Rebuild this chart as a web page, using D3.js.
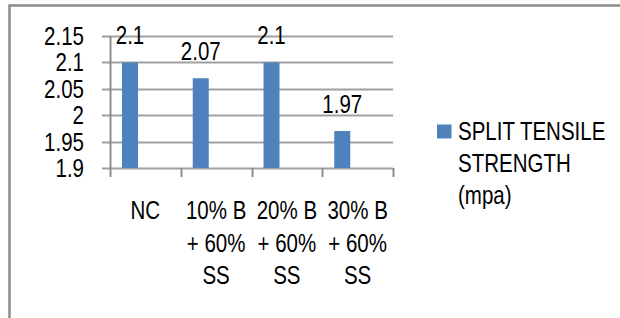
<!DOCTYPE html>
<html><head><meta charset="utf-8">
<script src="https://cdn.jsdelivr.net/npm/d3@7"></script>
<style>
html,body{margin:0;padding:0;background:#fff;}
svg text{font-family:"Liberation Sans","Arial",sans-serif;font-size:25px;fill:#000;}
</style></head>
<body>
<svg id="chart" width="620" height="318"></svg>
<script>
const categories = [["NC"], ["10% B", "+ 60%", "SS"], ["20% B", "+ 60%", "SS"], ["30% B", "+ 60%", "SS"]];
const values = [2.1, 2.07, 2.1, 1.97];
const valueLabels = ["2.1", "2.07", "2.1", "1.97"];
const yTicks = [1.9, 1.95, 2, 2.05, 2.1, 2.15];
const yTickLabels = ["1.9", "1.95", "2", "2.05", "2.1", "2.15"];
const seriesName = ["SPLIT TENSILE", "STRENGTH", "(mpa)"];

(function () {
const svg = d3.select("#chart");
const barColor = "#4F81BD";
const gridColor = "#a0a0a0";
const SX = 0.82;

// narrow text: scale horizontally around the anchor point
function label(parent, data, fx, fy, anchor, ftext) {
  return parent.append("g").selectAll("g").data(data).join("g")
    .attr("transform", (d, i) => `translate(${fx(d, i)},${fy(d, i)}) scale(${SX},1)`)
    .append("text").attr("text-anchor", anchor).text(ftext);
}

svg.append("rect").attr("x", 9.5).attr("y", 5.5).attr("width", 640).attr("height", 340)
  .attr("fill", "none").attr("stroke", "#8c8c8c").attr("stroke-width", 2.5);

const pL = 110, pR = 393, pT = 36, pB = 168;
const x = d3.scaleBand().domain(d3.range(categories.length)).range([pL, pR]).padding(0);
const y = d3.scaleLinear().domain([1.9, 2.15]).range([pB, pT]);

svg.append("g").selectAll("line").data(yTicks).join("line")
  .attr("x1", pL - 8).attr("x2", pR)
  .attr("y1", d => Math.round(y(d)) + 0.5).attr("y2", d => Math.round(y(d)) + 0.5)
  .attr("stroke", gridColor).attr("stroke-width", 2);

label(svg, yTicks, () => 84, d => y(d) + 9, "end", (d, i) => yTickLabels[i]);

svg.append("line").attr("x1", pL + 0.5).attr("x2", pL + 0.5).attr("y1", pT).attr("y2", pB)
  .attr("stroke", "#8c8c8c").attr("stroke-width", 2);

const tickXs = d3.range(categories.length + 1).map(i => i < categories.length ? x(i) : x(categories.length - 1) + x.bandwidth());
svg.append("g").selectAll("line").data(tickXs).join("line")
  .attr("x1", d => Math.round(d) + 0.5).attr("x2", d => Math.round(d) + 0.5)
  .attr("y1", pB).attr("y2", pB + 9)
  .attr("stroke", "#8c8c8c").attr("stroke-width", 2);

const barW = 16, barOff = 12;
svg.append("g").selectAll("rect").data(values).join("rect")
  .attr("x", (d, i) => x(i) + barOff).attr("width", barW)
  .attr("y", d => y(d)).attr("height", d => y(1.9) - y(d))
  .attr("fill", barColor);

label(svg, values, (d, i) => x(i) + barOff + barW / 2, d => y(d) - 18, "middle", (d, i) => valueLabels[i]);

const catLines = categories.flatMap((lines, i) => lines.map((s, j) => ({s, i, j})));
label(svg, catLines, d => x(d.i) + x.bandwidth() / 2, d => 219 + d.j * 32.5, "middle", d => d.s);

svg.append("rect").attr("x", 437).attr("y", 124.5).attr("width", 14.5).attr("height", 14).attr("fill", barColor);
label(svg, seriesName, () => 458, (d, i) => 140 + i * 32, "start", d => d);
})();
</script>
</body></html>
